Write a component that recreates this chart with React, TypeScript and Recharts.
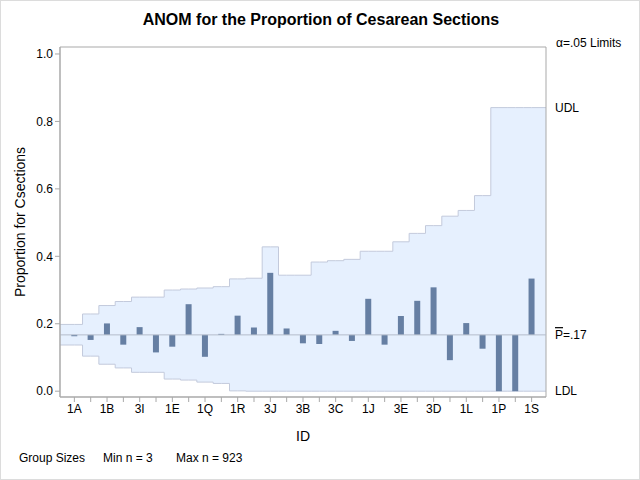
import React from "react";
import {
  Area,
  Bar,
  ComposedChart,
  ReferenceArea,
  ReferenceLine,
  XAxis,
  YAxis,
} from "recharts";

// every other group id is printed on the axis
const tickLabels = ["1A", "1B", "3I", "1E", "1Q", "1R", "3J", "3B", "3C", "1J", "3E", "3D", "1L", "1P", "1S"];

const proportions = [
  0.163, 0.152, 0.201, 0.138, 0.19, 0.115, 0.132, 0.258, 0.102, 0.17,
  0.224, 0.189, 0.351, 0.186, 0.142, 0.14, 0.179, 0.149, 0.274, 0.138,
  0.223, 0.268, 0.308, 0.092, 0.202, 0.126, 0.0, 0.0, 0.334,
];

const upperLimits = [
  0.198, 0.229, 0.254, 0.266, 0.279, 0.279, 0.3, 0.303, 0.306, 0.31,
  0.333, 0.335, 0.428, 0.344, 0.344, 0.383, 0.387, 0.391, 0.415, 0.415,
  0.443, 0.468, 0.491, 0.519, 0.536, 0.58, 0.841, 0.841, 0.841,
];

const lowerLimits = [
  0.137, 0.104, 0.08, 0.069, 0.056, 0.056, 0.036, 0.033, 0.027, 0.023,
  0.001, 0, 0, 0, 0, 0, 0, 0, 0, 0,
  0, 0, 0, 0, 0, 0, 0, 0, 0,
];

const pBar = 0.167;
const minN = 3;
const maxN = 923;

const yTicks = [0, 0.2, 0.4, 0.6, 0.8, 1.0];
const yDomain = [-0.0172, 1.0207];
const xPad = 0.88;
const xDomain = [-xPad, proportions.length - 1 + xPad];

// step band: each group holds its limits across its own slot
const rows: { x: number; band: number[]; p?: number }[] = [];
proportions.forEach((p, i) => {
  const band = [lowerLimits[i], upperLimits[i]];
  rows.push({ x: i === 0 ? xDomain[0] : i - 0.5, band });
  rows.push({ x: i, band, p });
  rows.push({ x: i === proportions.length - 1 ? xDomain[1] : i + 0.5, band });
});

const xTicks = proportions.map((_, i) => i);

const axisColor = "#a9a9a9";
const font = "'Liberation Sans', Arial, sans-serif";

const PBarLabel = (props: any) => {
  const vb = props.viewBox || {};
  return (
    <text
      x={vb.x + vb.width + 9}
      y={vb.y}
      dy="0.35em"
      fontSize={12}
      fill="#000"
      fontFamily={font}
    >
      <tspan textDecoration="overline">P</tspan>=.17
    </text>
  );
};

export default function App() {
  return (
    <div
      style={{
        position: "absolute",
        left: 0,
        top: 0,
        width: 640,
        height: 480,
        boxSizing: "border-box",
        border: "1px solid #dcdcdc",
        background: "#fff",
        fontFamily: font,
        color: "#000",
      }}
    >
      <div
        style={{
          position: "absolute",
          top: 10,
          left: 0,
          width: 640,
          textAlign: "center",
          fontWeight: "bold",
          fontSize: 16,
        }}
      >
        ANOM for the Proportion of Cesarean Sections
      </div>
      <div style={{ position: "absolute", left: 555, top: 35, fontSize: 12 }}>
        α=.05 Limits
      </div>
      <div style={{ position: "absolute", top: 450, left: 18, fontSize: 12 }}>
        Group Sizes
      </div>
      <div style={{ position: "absolute", top: 450, left: 102, fontSize: 12 }}>
        Min n = {minN}
      </div>
      <div style={{ position: "absolute", top: 450, left: 175, fontSize: 12 }}>
        Max n = {maxN}
      </div>
      <div style={{ position: "absolute", left: -1, top: -1 }}>
        <ComposedChart
          width={640}
          height={480}
          data={rows}
          margin={{ top: 47, right: 94, left: 0, bottom: 37 }}
        >
          <XAxis
            type="number"
            dataKey="x"
            domain={xDomain}
            allowDataOverflow
            ticks={xTicks}
            interval={0}
            tickFormatter={(v) => (v % 2 === 0 ? tickLabels[v / 2] : "")}
            tick={{ fontSize: 12, fill: "#000" }}
            tickSize={5}
            stroke={axisColor}
            height={46}
            label={{ value: "ID", position: "insideBottom", offset: 2, fontSize: 14, fill: "#000" }}
          />
          <YAxis
            type="number"
            domain={yDomain}
            allowDataOverflow
            ticks={yTicks}
            tickFormatter={(v) => Number(v).toFixed(1)}
            tick={{ fontSize: 12, fill: "#000" }}
            tickSize={5}
            stroke={axisColor}
            width={60}
            label={{
              value: "Proportion for Csections",
              angle: -90,
              position: "insideLeft",
              offset: 20,
              fontSize: 14,
              fill: "#000",
              style: { textAnchor: "middle" },
            }}
          />
          <Area
            type="linear"
            dataKey="band"
            fill="#e6f0fe"
            fillOpacity={1}
            stroke="#c3cadc"
            strokeWidth={1}
            dot={false}
            activeDot={false}
            isAnimationActive={false}
          />
          <ReferenceLine y={pBar} stroke="#b4bccb" label={<PBarLabel />} />
          <ReferenceLine
            y={upperLimits[upperLimits.length - 1]}
            stroke="none"
            label={{ value: "UDL", position: "right", offset: 9, fontSize: 12, fill: "#000" }}
          />
          <ReferenceLine
            y={lowerLimits[lowerLimits.length - 1]}
            stroke="none"
            label={{ value: "LDL", position: "right", offset: 9, fontSize: 12, fill: "#000" }}
          />
          <Bar
            dataKey={(d: any) =>
              d.p === undefined ? undefined : [Math.min(d.p, pBar), Math.max(d.p, pBar)]
            }
            barSize={6}
            fill="#667fa3"
            isAnimationActive={false}
          />
          {/* plot frame */}
          <ReferenceArea
            x1={xDomain[0]}
            x2={xDomain[1]}
            y1={yDomain[0]}
            y2={yDomain[1]}
            fill="none"
            stroke={axisColor}
            strokeOpacity={1}
          />
        </ComposedChart>
      </div>
    </div>
  );
}
